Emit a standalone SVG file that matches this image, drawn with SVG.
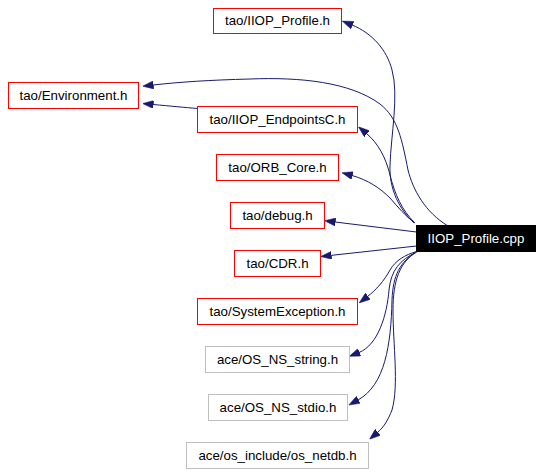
<svg xmlns="http://www.w3.org/2000/svg" width="543" height="474" viewBox="0 0 543 474">
<style>
.n rect{fill:#ffffff;stroke-width:1}
.r rect{stroke:#ff0000}
.g rect{stroke:#bfbfbf}
.n text{font-family:"Liberation Sans",Arial,sans-serif;font-size:13.3px;text-anchor:middle;fill:#000000}
.src rect{fill:#000000;stroke:#000000}
.src text{fill:#ffffff}
#edges path{fill:none;stroke:#191970;stroke-width:1;marker-end:url(#ah)}
</style>
<defs>
<marker id="ah" viewBox="0 0 11 8" refX="0.5" refY="4" markerWidth="11" markerHeight="8" markerUnits="userSpaceOnUse" orient="auto">
<path d="M0,0 L11,4 L0,8 z" fill="#191970" stroke="#191970" stroke-width="0.5"/>
</marker>
</defs>
<rect width="543" height="474" fill="#ffffff"/>
<g id="edges">
<path d="M414,223 C400,210 389,190 390,165 C391,135 399,95 392,70 C387,50 372,33 352,25"/>
<path d="M448,226 C425,212 413,190 408,170 C402,140 398,118 380,104 C350,82 300,77 250,79 C210,80 180,82 153,85"/>
<path d="M197.5,108.5 C185,107.5 170,106 153,104.5"/>
<path d="M414,222 C402,210 395,195 390,175 C386,158 378,143 366.5,133.5"/>
<path d="M415,223 C405,216 398,207 390,198 C380,188 368,180 352,175.5"/>
<path d="M416.5,232 L335,222"/>
<path d="M416.5,246 L331,255.4"/>
<path d="M416.5,251.5 C405,255 396,260 390,270 C384,281 376,290 367.5,296.5"/>
<path d="M416.5,252 C400,260 391,270 389,290 C387,315 378,345 359,352.5"/>
<path d="M416.5,252 C400,262 393,275 392,300 C391,345 385,385 358,400"/>
<path d="M416.5,252 C400,262 393,280 393,310 C393,345 399,385 392,410 C388,420 384,427 377.5,432.5"/>
</g>
<g id="node-src" class="n src"><rect x="416.5" y="225.5" width="119" height="26"/><text x="476" y="242.5">IIOP_Profile.cpp</text></g>
<g id="node-iiop-profile-h" class="n r"><rect x="213.5" y="8.5" width="128" height="25"/><text x="277.5" y="25">tao/IIOP_Profile.h</text></g>
<g id="node-environment" class="n r"><rect x="8.5" y="82.5" width="130" height="26"/><text x="73.5" y="99.5">tao/Environment.h</text></g>
<g id="node-endpointsc" class="n r"><rect x="197.5" y="106.5" width="160" height="26"/><text x="277.5" y="123.5">tao/IIOP_EndpointsC.h</text></g>
<g id="node-orb-core" class="n r"><rect x="216.5" y="154.5" width="122" height="26"/><text x="277.5" y="171.5">tao/ORB_Core.h</text></g>
<g id="node-debug" class="n r"><rect x="230.5" y="202.5" width="94" height="26"/><text x="277.5" y="219.5">tao/debug.h</text></g>
<g id="node-cdr" class="n r"><rect x="234.5" y="250.5" width="86" height="26"/><text x="277.5" y="267.5">tao/CDR.h</text></g>
<g id="node-sysexc" class="n r"><rect x="197.5" y="298.5" width="160" height="26"/><text x="277.5" y="315.5">tao/SystemException.h</text></g>
<g id="node-os-ns-string" class="n g"><rect x="205.5" y="346.5" width="144" height="26"/><text x="277.5" y="363.5">ace/OS_NS_string.h</text></g>
<g id="node-os-ns-stdio" class="n g"><rect x="208.5" y="394.5" width="139" height="26"/><text x="278" y="411.5">ace/OS_NS_stdio.h</text></g>
<g id="node-os-netdb" class="n g"><rect x="186.5" y="442.5" width="182" height="26"/><text x="277.5" y="459.5">ace/os_include/os_netdb.h</text></g>
</svg>
